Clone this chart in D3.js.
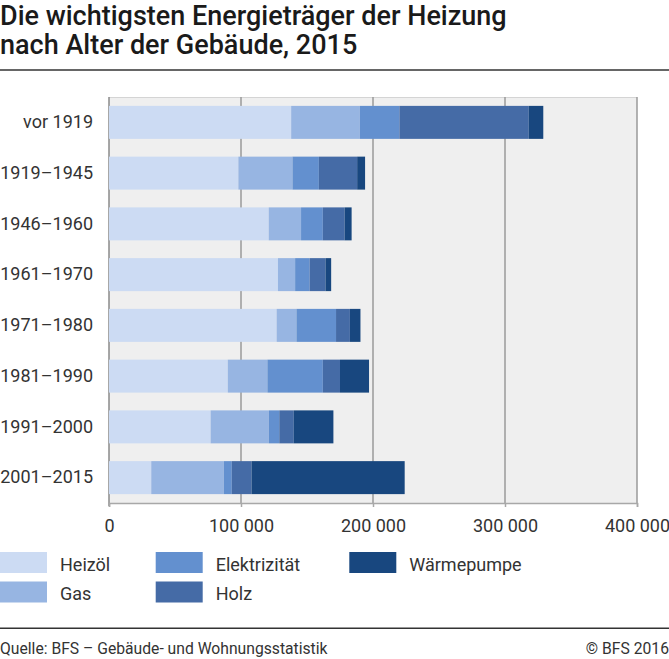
<!DOCTYPE html>
<html>
<head>
<meta charset="utf-8">
<script src="https://cdnjs.cloudflare.com/ajax/libs/d3/7.8.5/d3.min.js"></script>
<style>
  html, body { margin: 0; padding: 0; background: #fff; }
  svg { display: block; font-family: Roboto, "Noto Sans", sans-serif; }
</style>
</head>
<body>
<svg id="chart" width="669" height="659"></svg>
<script>
const categories = ["vor 1919", "1919–1945", "1946–1960", "1961–1970", "1971–1980", "1981–1990", "1991–2000", "2001–2015"];
const seriesNames = ["Heizöl", "Gas", "Elektrizität", "Holz", "Wärmepumpe"];
const heizoel      = [138000,  98000, 121000, 128000, 127000,  90000,  77000,  32000];
const gas          = [ 52000,  41000,  24500,  13000,  15000,  30000,  44000,  55000];
const elektrizitaet= [ 30000,  20000,  16500,  11000,  30000,  42000,   8000,   6000];
const holz         = [ 98000,  29000,  16500,  12000,  10500,  13000,  11000,  15000];
const waermepumpe  = [ 11000,   6000,   5300,   4300,   8000,  22000,  30000, 116000];
const seriesColors = ["#ccdbf3", "#97b5e2", "#6390cf", "#456ba6", "#18477f"];
const xTicks = [0, 100000, 200000, 300000, 400000];
const titleLines = ["Die wichtigsten Energieträger der Heizung", "nach Alter der Gebäude, 2015"];
const sourceText = "Quelle: BFS – Gebäude- und Wohnungsstatistik";
const copyrightText = "© BFS 2016";

const seriesValues = [heizoel, gas, elektrizitaet, holz, waermepumpe];
const rows = categories.map((c, i) => {
  const r = { cat: c };
  seriesNames.forEach((s, j) => r[s] = seriesValues[j][i]);
  return r;
});

const svg = d3.select("#chart");
const W = 669;
const plot = { left: 109, right: 637, top: 97, bottom: 503 };

const x = d3.scaleLinear().domain([0, 400000]).range([plot.left, plot.right]);
const y = d3.scaleBand().domain(categories).range([plot.top, plot.bottom]).paddingInner(0.35).paddingOuter(0.175);
const color = d3.scaleOrdinal().domain(seriesNames).range(seriesColors);

// Title
svg.append("g").selectAll("text").data(titleLines).join("text")
  .attr("x", 0).attr("y", (d, i) => 25 + i * 29)
  .attr("font-size", 27).attr("font-weight", 500).attr("fill", "#1a1a1a")
  .text(d => d);
svg.append("line").attr("x1", 0).attr("x2", W).attr("y1", 70).attr("y2", 70)
  .attr("stroke", "#333").attr("stroke-width", 1.5);

// Plot background
svg.append("rect").attr("x", plot.left).attr("y", plot.top)
  .attr("width", plot.right - plot.left).attr("height", plot.bottom - plot.top)
  .attr("fill", "#efefef");
svg.append("line").attr("x1", plot.left).attr("x2", plot.right).attr("y1", plot.top + 0.5).attr("y2", plot.top + 0.5)
  .attr("stroke", "#d4d4d4").attr("stroke-width", 1);

// Grid lines
svg.append("g").selectAll("line").data(xTicks.slice(1)).join("line")
  .attr("x1", d => x(d)).attr("x2", d => x(d))
  .attr("y1", plot.top).attr("y2", plot.bottom)
  .attr("stroke", "#9a9a9a").attr("stroke-width", 1.5);

// Left axis line
svg.append("line").attr("x1", plot.left).attr("x2", plot.left)
  .attr("y1", plot.top).attr("y2", plot.bottom + 3)
  .attr("stroke", "#8a8a8a").attr("stroke-width", 1.5);

// Bars
const stack = d3.stack().keys(seriesNames);
const stacked = stack(rows);
svg.append("g").selectAll("g").data(stacked).join("g")
  .attr("fill", d => color(d.key))
  .selectAll("rect").data(d => d).join("rect")
  .attr("x", d => x(d[0]))
  .attr("y", d => y(d.data.cat))
  .attr("width", d => x(d[1]) - x(d[0]))
  .attr("height", y.bandwidth());

// X axis
const xAxis = d3.axisBottom(x).tickValues(xTicks).tickSize(4).tickPadding(12)
  .tickFormat(d => d3.format(",")(d).replace(/,/g, " "));
const gx = svg.append("g").attr("transform", `translate(0,${plot.bottom})`).call(xAxis);
gx.select(".domain").attr("stroke", "#a8a8a8").attr("stroke-width", 1.5);
gx.selectAll(".tick line").attr("stroke", "#a8a8a8").attr("stroke-width", 1.5);
gx.selectAll(".tick text").attr("font-size", 18).attr("fill", "#333")
  .attr("font-family", "Roboto, sans-serif").attr("dy", "0.71em");

// Y labels
const yAxis = d3.axisLeft(y).tickSize(0).tickPadding(16);
const gy = svg.append("g").attr("transform", `translate(${plot.left},0)`).call(yAxis);
gy.select(".domain").remove();
gy.selectAll(".tick text").attr("font-size", 18).attr("fill", "#333")
  .attr("font-family", "Roboto, sans-serif");

// Legend
const legendPos = [
  { x: 0, y: 552 }, { x: 0, y: 581.5 },
  { x: 155.7, y: 552 }, { x: 155.7, y: 581.5 },
  { x: 349.3, y: 552 }
];
const lg = svg.append("g").selectAll("g").data(seriesNames).join("g")
  .attr("transform", (d, i) => `translate(${legendPos[i].x},${legendPos[i].y})`);
lg.append("rect").attr("width", 47).attr("height", 21).attr("fill", d => color(d));
lg.append("text").attr("x", 60).attr("y", 18.5).attr("font-size", 18).attr("fill", "#333").text(d => d);

// Footer
svg.append("line").attr("x1", 0).attr("x2", W).attr("y1", 628.3).attr("y2", 628.3)
  .attr("stroke", "#333").attr("stroke-width", 1.5);
svg.append("text").attr("x", 0).attr("y", 654).attr("font-size", 15.7).attr("fill", "#333").text(sourceText);
svg.append("text").attr("x", W).attr("y", 654).attr("text-anchor", "end").attr("font-size", 15.7).attr("fill", "#333").text(copyrightText);
</script>
</body>
</html>
